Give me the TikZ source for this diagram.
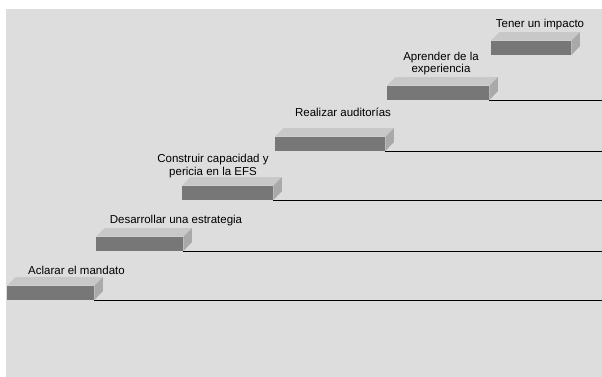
\documentclass[tikz,border=0pt]{standalone}
\usepackage{fontspec}
\setmainfont{Liberation Sans}
\usepackage{tikz}
\usetikzlibrary{positioning}

\definecolor{hgrund}{HTML}{DDDDDD}
\definecolor{vorn}{HTML}{777777}
\definecolor{oben}{HTML}{C8C8C8}
\definecolor{seite}{HTML}{A9A9A9}

\tikzset{
    stufe/.style={fill=vorn, inner sep=0pt, minimum height=14pt, anchor=south west},
    beschr/.style={align=center, anchor=base, inner sep=0pt, font=\fontsize{11.5}{12.5}\selectfont},
    boden/.style={line width=0.8pt}
}

\begin{document}
\begin{tikzpicture}[x=1pt, y=-1pt]
    \useasboundingbox (0,0) rectangle (602,377);
    \fill[hgrund] (6,9) rectangle (602,377);
    \coordinate (rechts) at (602,0);

    % Stufen: Name / links / unten / Breite
    \foreach \n/\x/\y/\w in {1/7/300/87, 2/96/251/87, 3/182/200/91, 4/275/151/110, 5/387/100/102, 6/491/55/80} {
        \node[stufe, minimum width=\w pt] (s\n) at (\x,\y) {};
        \fill[oben] (s\n.north west) -- (s\n.north east) -- ++(8.5,-8.5) -- ([shift={(8.5,-8.5)}]s\n.north west) -- cycle;
        \fill[seite] (s\n.north east) -- ++(8.5,-8.5) -- ++(0,14) -- (s\n.south east) -- cycle;
    }
    \foreach \n in {1,...,5}
        \draw[boden] (s\n.south east) -- (s\n.south east -| rechts);

    \node[beschr] (l1) at (76.5,274) {Aclarar el mandato};
    \node[beschr] (l2) at (176,223)  {Desarrollar una estrategia};
    \node[beschr] (l3) at (213,175)  {Construir capacidad y\\pericia en la EFS};
    \node[beschr] (l4) at (343,117)  {Realizar auditorías};
    \node[beschr] (l5) at (441,73)   {Aprender de la\\experiencia};
    \node[beschr] (l6) at (540,28)   {Tener un impacto};
\end{tikzpicture}
\end{document}
